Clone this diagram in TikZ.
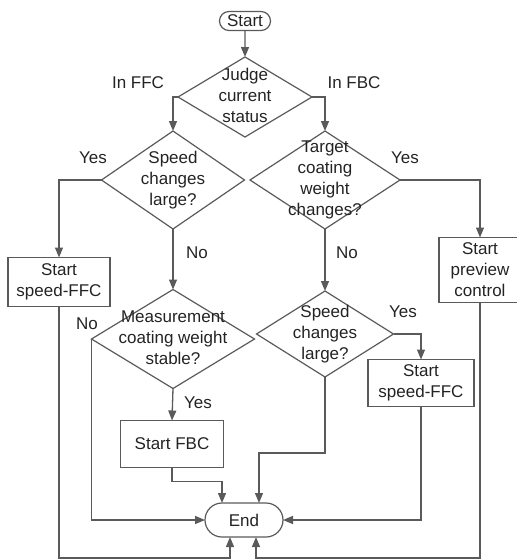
\documentclass[tikz,border=0pt]{standalone}
\usepackage{fontspec}
\setmainfont{Liberation Sans}
\usetikzlibrary{arrows.meta,shapes.geometric,shapes.misc}
\definecolor{linegray}{RGB}{90,90,90}
\definecolor{textgray}{RGB}{35,35,35}
% text of a decision box, kept out of the size of the diamond
\newcommand{\dtxt}[1]{\smash{\raisebox{-0.25em}{\makebox[0pt]{\begin{tabular}{@{}c@{}}#1\end{tabular}}}}}
\tikzset{
  term/.style={draw=linegray, line width=1.2pt, rounded rectangle, inner sep=0pt, outer sep=0pt, text=textgray},
  decide/.style={draw=linegray, line width=1.2pt, diamond, inner sep=0pt, outer sep=0pt, text=textgray},
  act/.style={draw=linegray, line width=1.2pt, rectangle, inner sep=0pt, outer sep=0pt, align=center, text=textgray},
  lbl/.style={inner sep=0pt, text=textgray},
  flow/.style={draw=linegray, line width=1.3pt, -{Triangle[length=10pt,width=8pt]}},
}
\begin{document}
\begin{tikzpicture}[x=1pt, y=-1pt, font=\fontsize{17}{21}\selectfont]
\useasboundingbox (0,0) rectangle (517,560);
\coordinate (bot) at (0,558);
% terminals
\node[term, minimum width=51pt, minimum height=19pt] (start) at (245,21) {Start};
\node[term, minimum width=78pt, minimum height=34pt] (end) at (244,520) {End};
% decisions
\node[decide, minimum width=134pt, minimum height=80pt] (judge) at (245,97) {\dtxt{Judge\\current\\status}};
\node[decide, minimum width=143pt, minimum height=98pt] (spd1) at (173,180) {\dtxt{Speed\\changes\\large?}};
\node[decide, minimum width=150pt, minimum height=98pt] (tgt) at (325,180) {\dtxt{Target\\coating\\weight\\changes?}};
\node[decide, minimum width=163pt, minimum height=99pt] (meas) at (173,339) {\dtxt{Measurement\\coating weight\\stable?}};
\node[decide, minimum width=137pt, minimum height=86pt] (spd2) at (325,334) {\dtxt{Speed\\changes\\large?}};
% actions
\node[act, minimum width=102pt, minimum height=49pt] (sffc1) at (59,282) {Start\\speed-FFC};
\node[act, minimum width=82pt, minimum height=65pt] (prev) at (480,270) {Start\\preview\\control};
\node[act, minimum width=106pt, minimum height=47pt] (sffc2) at (421,383) {Start\\speed-FFC};
\node[act, minimum width=103pt, minimum height=47pt] (fbc) at (172,444) {Start FBC};
% branch labels
\node[lbl] (inffc) at (138,83) {In FFC};
\node[lbl] (infbc) at (354,83) {In FBC};
\node[lbl] (yes1) at (93,158) {Yes};
\node[lbl] (yes2) at (405,158) {Yes};
\node[lbl] (no1) at (197,253) {No};
\node[lbl] (no2) at (347,253) {No};
\node[lbl] (no3) at (87,324) {No};
\node[lbl] (yes3) at (403,312) {Yes};
\node[lbl] (yes4) at (198,403) {Yes};
% connectors
\draw[flow] (start) -- (judge);
\draw[flow] (judge.west) -| (spd1.north);
\draw[flow] (judge.east) -| (tgt.north);
\draw[flow] (spd1.west) -| (sffc1.north);
\draw[flow] (spd1.south) -- (meas.north);
\draw[flow] (tgt.east) -| (prev.north);
\draw[flow] (tgt.south) -- (spd2.north);
\draw[flow] (spd2.east) -| (sffc2.north);
\draw[flow] (meas.south) -- (fbc.north);
\draw[flow] (meas.west) |- (end.west);
\draw[flow] (fbc.south) -- ++(0,14) -| ([xshift=-22pt]end.north);
\draw[flow] (spd2.south) -- ++(0,76) -| ([xshift=15pt]end.north);
\draw[flow] (sffc2.south) |- (end.east);
\draw[flow] (sffc1.south) -- (sffc1.south |- bot) -| ([xshift=-14pt]end.south);
\draw[flow] (prev.south) -- (prev.south |- bot) -| ([xshift=12pt]end.south);
\end{tikzpicture}
\end{document}
